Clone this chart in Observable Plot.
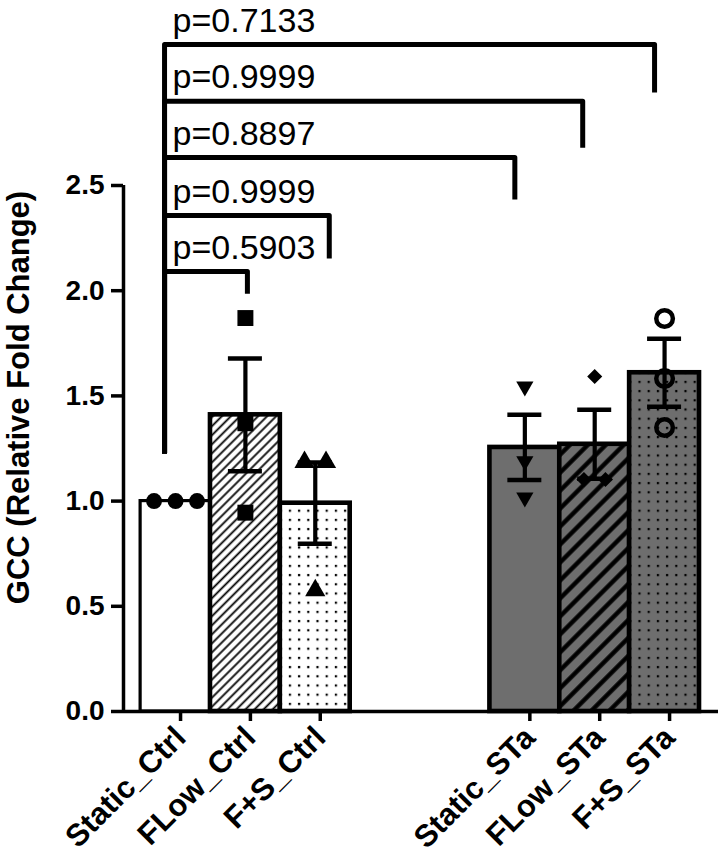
<!DOCTYPE html>
<html><head><meta charset="utf-8">
<script src="https://cdn.jsdelivr.net/npm/d3@7"></script>
<script src="https://cdn.jsdelivr.net/npm/@observablehq/plot@0.6"></script>
<style>html,body{margin:0;padding:0;background:#fff}#chart{width:722px;height:862px}</style>
</head><body><div id="chart"></div>
<script>
// ---------- data ----------
const categories = ["Static_Ctrl", "FLow_Ctrl", "F+S_Ctrl", "Static_STa", "FLow_STa", "F+S_STa"];
const slotOrder = ["Static_Ctrl", "FLow_Ctrl", "F+S_Ctrl", "", "", "Static_STa", "FLow_STa", "F+S_STa"];
const means = [1.00, 1.41, 0.99, 1.255, 1.27, 1.61];
const sems = [0, 0.268, 0.193, 0.155, 0.164, 0.162];
const replicates = [
  [1.00, 1.00, 1.00],
  [1.87, 1.37, 0.945],
  [1.185, 1.185, 0.575],
  [1.545, 1.19, 1.017],
  [1.592, 1.103, 1.103],
  [1.868, 1.583, 1.35]
];
const compareFrom = "Static_Ctrl";
const compareTo = ["F+S_STa", "FLow_STa", "Static_STa", "F+S_Ctrl", "FLow_Ctrl"];
const pValues = ["p=0.7133", "p=0.9999", "p=0.8897", "p=0.9999", "p=0.5903"];
const bracketLevel = [3.17, 2.90, 2.633, 2.357, 2.091];
const bracketDrop = [2.942, 2.68, 2.433, 2.153, 1.985];
const bracketLeftDrop = 1.226;
const yTicks = [0, 0.5, 1.0, 1.5, 2.0, 2.5];
const yLabel = "GCC (Relative Fold Change)";

// ---------- layout / style ----------
const W = 722, H = 862;
const mL = 123, mR = 4, mT = 185, mB = 151;
const xDomain = [-0.745, 7.772];
const pxPerUnit = (W - mL - mR) / (xDomain[1] - xDomain[0]);
const GRAY = "#6e6e6e";
const barFill = {
  "Static_Ctrl": "white",
  "FLow_Ctrl": "url(#hatchThin)",
  "F+S_Ctrl": "url(#dotsWhite)",
  "Static_STa": GRAY,
  "FLow_STa": "url(#hatchThick)",
  "F+S_STa": "url(#dotsGray)"
};
const barStroke = {"Static_Ctrl": 3.2};
const pointStyle = {
  "Static_Ctrl": {symbol: "circle", r: 8, fill: "black"},
  "FLow_Ctrl": {symbol: "square", r: 9, fill: "black"},
  "F+S_Ctrl": {symbol: "triangle", r: 7.5, fill: "black"},
  "Static_STa": {symbol: "triangle", r: 6.4, fill: "black", rotate: 180},
  "FLow_STa": {symbol: "square", r: 6, fill: "black", rotate: 45},
  "F+S_STa": {symbol: "circle", r: 8.3, fill: "none", stroke: "black", strokeWidth: 4.5}
};
const bracketNudgePx = [-10, -12, -10, 14, 2];
const capHalf = 17 / pxPerUnit;

// ---------- derived ----------
const idx = c => slotOrder.indexOf(c);
const bars = categories.map((c, k) => ({cat: c, i: idx(c), mean: means[k], sem: sems[k]}));
const errs = bars.filter(d => d.sem > 0);
const caps = errs.flatMap(d => [{...d, v: d.mean - d.sem}, {...d, v: d.mean + d.sem}]);

function dodge(values, tol = 0.04) {
  const order = values.map((v, j) => j).sort((a, b) => values[a] - values[b]);
  const offs = new Array(values.length).fill(0);
  let s = 0;
  while (s < order.length) {
    let e = s;
    while (e + 1 < order.length && values[order[e + 1]] - values[order[s]] <= tol) e++;
    const n = e - s + 1;
    for (let k = s; k <= e; k++) offs[order[k]] = k - s - (n - 1) / 2;
    s = e + 1;
  }
  return offs;
}
const dodgeStep = 21.5 / pxPerUnit;
const points = categories.flatMap((c, k) => {
  const o = dodge(replicates[k]);
  return replicates[k].map((v, j) => ({cat: c, i: idx(c), v, off: o[j] * dodgeStep}));
});

const leftX = idx(compareFrom) - 11 / pxPerUnit;
const bracketLines = compareTo.flatMap((c, k) => {
  const rx = idx(c) + bracketNudgePx[k] / pxPerUnit;
  return [
    {b: k, x: leftX, y: bracketLeftDrop},
    {b: k, x: leftX, y: bracketLevel[k]},
    {b: k, x: rx, y: bracketLevel[k]},
    {b: k, x: rx, y: bracketDrop[k]}
  ];
});
const pLabels = compareTo.map((c, k) => ({x: leftX, y: bracketLevel[k], t: pValues[k]}));

const pointMarks = categories.map(c => {
  const s = pointStyle[c];
  return Plot.dot(points.filter(d => d.cat === c), {
    x: d => d.i + d.off, y: "v",
    symbol: s.symbol, r: s.r, fill: s.fill, stroke: s.stroke || "none",
    strokeWidth: s.strokeWidth || 0, rotate: s.rotate || 0
  });
});

const svg = Plot.plot({
  width: W, height: H,
  marginLeft: mL, marginRight: mR, marginTop: mT, marginBottom: mB,
  style: {fontFamily: "'Liberation Sans', Arial, sans-serif", fontSize: "28px", fontWeight: "bold", background: "white", color: "black"},
  x: {type: "linear", domain: xDomain, axis: null},
  y: {domain: [0, 2.5], axis: null},
  color: {type: "identity"},
  marks: [
    Plot.rectY(bars, {x1: d => d.i - 0.5, x2: d => d.i + 0.5, y1: 0, y2: "mean",
      fill: d => barFill[d.cat], stroke: "black", strokeWidth: d => barStroke[d.cat] || 4.6}),
    ...pointMarks,
    Plot.ruleX(errs, {x: "i", y1: d => d.mean - d.sem, y2: d => d.mean + d.sem, strokeWidth: 4.2, stroke: "black"}),
    Plot.ruleY(caps, {y: "v", x1: d => d.i - capHalf, x2: d => d.i + capHalf, strokeWidth: 4.5, stroke: "black"}),
    Plot.ruleY([0], {strokeWidth: 3.5, stroke: "black"}),
    Plot.ruleX([xDomain[0]], {y1: 0, y2: 2.5, strokeWidth: 3.5, stroke: "black"}),
    Plot.axisY(yTicks, {tickFormat: d3.format(".1f"), tickSize: 12, tickPadding: 7, strokeWidth: 3.5,
      fontSize: 28, fontWeight: "bold", label: null}),
    Plot.axisX(categories.map(idx), {tickFormat: i => slotOrder[i], tickRotate: -45, tickSize: 10,
      tickPadding: 11, strokeWidth: 3.5, fontSize: 31, fontWeight: "bold", label: null,
      textAnchor: "end", lineAnchor: "middle", dx: 5}),
    Plot.line(bracketLines, {x: "x", y: "y", z: "b", stroke: "black", strokeWidth: 5,
      strokeLinejoin: "round", strokeLinecap: "butt"}),
    Plot.text(pLabels, {x: "x", y: "y", text: "t", textAnchor: "start", lineAnchor: "bottom",
      dx: 8, dy: -13, fontSize: 34, fontWeight: "normal", fill: "black"}),
    Plot.text([yLabel], {frameAnchor: "left", textAnchor: "middle", lineAnchor: "middle", rotate: -90,
      dx: -104, dy: -51, fontSize: 31, fontWeight: "bold", fill: "black"})
  ]
});

const defs = `
<pattern id="hatchThin" patternUnits="userSpaceOnUse" width="6.4" height="6.4" patternTransform="rotate(45)">
  <rect width="6.4" height="6.4" fill="white"/>
  <line x1="3.2" y1="-1" x2="3.2" y2="7.4" stroke="black" stroke-width="1.8"/>
</pattern>
<pattern id="hatchThick" patternUnits="userSpaceOnUse" width="12.7" height="12.7" patternTransform="rotate(45)">
  <rect width="12.7" height="12.7" fill="${GRAY}"/>
  <line x1="6.35" y1="-1" x2="6.35" y2="13.7" stroke="black" stroke-width="4.4"/>
</pattern>
<pattern id="dotsWhite" patternUnits="userSpaceOnUse" width="9.2" height="9.2">
  <rect width="9.2" height="9.2" fill="white"/>
  <rect x="3.6" y="3.6" width="2.2" height="2.2" fill="black"/>
</pattern>
<pattern id="dotsGray" patternUnits="userSpaceOnUse" width="9.2" height="9.2">
  <rect width="9.2" height="9.2" fill="${GRAY}"/>
  <rect x="3.6" y="3.6" width="2.2" height="2.2" fill="black"/>
</pattern>`;
const defsEl = document.createElementNS("http://www.w3.org/2000/svg", "defs");
defsEl.innerHTML = defs;
svg.insertBefore(defsEl, svg.firstChild);
document.getElementById("chart").appendChild(svg);
</script>
</body></html>
